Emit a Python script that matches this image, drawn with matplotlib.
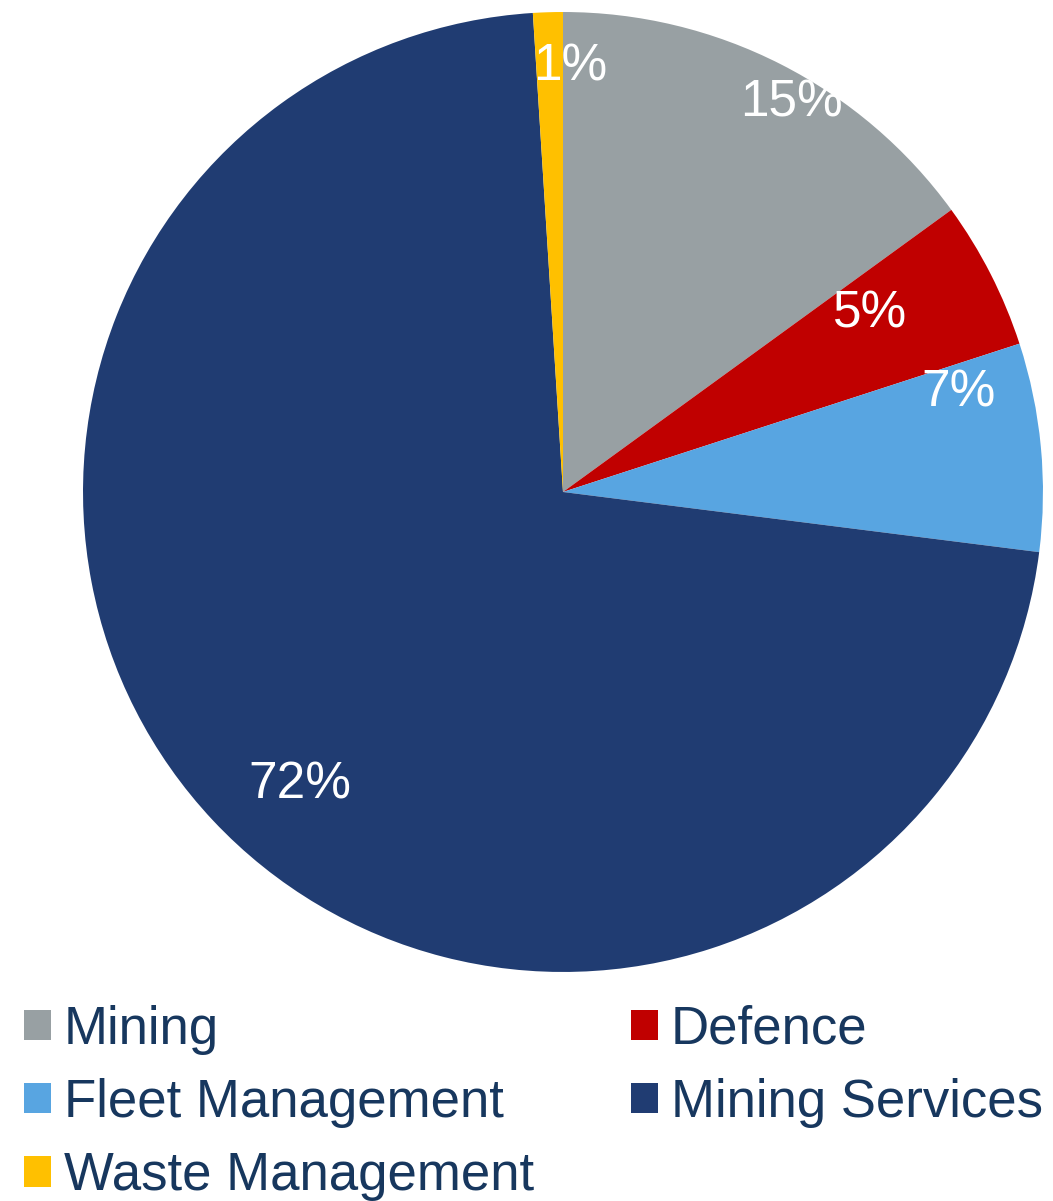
import numpy as np
import matplotlib.pyplot as plt
from matplotlib.patches import Patch

categories = ["Mining", "Defence", "Fleet Management", "Mining Services", "Waste Management"]
shares = [15, 5, 7, 72, 1]
colors = ["#98A0A3", "#C00000", "#58A5E1", "#203C72", "#FFC000"]

# label placement (fraction of radius, angle in degrees)
label_r = [0.94, 0.74, 0.85, 0.82, 0.885]
label_ang = [59.6, 30.0, 14.0, 228.1, 89.0]

fig = plt.figure(figsize=(10.53, 12.01), dpi=100)
ax = fig.add_axes([0.0788, 0.1907, 0.9117, 0.7993])

wedges, _ = ax.pie(shares, colors=colors, startangle=90, counterclock=False,
                   wedgeprops=dict(linewidth=0))
ax.set_aspect("equal")
ax.set_xlim(-1, 1)
ax.set_ylim(-1, 1)
ax.axis("off")

for v, r, a in zip(shares, label_r, label_ang):
    t = np.deg2rad(a)
    ax.text(r * np.cos(t), r * np.sin(t), f"{v}%", color="white",
            fontsize=37, family="Liberation Sans", ha="center", va="center")

# legend is filled row by row in the reference -> reorder for matplotlib's column fill
order = [0, 2, 4, 1, 3]
handles = [Patch(facecolor=colors[i], edgecolor="none") for i in order]
labels = [categories[i] for i in order]
fig.legend(handles, labels, loc="upper left", bbox_to_anchor=(24 / 1053, 0.1635),
           ncol=2, frameon=False, borderpad=0,
           prop=dict(family="Liberation Sans", size=38),
           labelcolor="#17375E", handlelength=0.51, handleheight=0.51,
           handletextpad=0.245, columnspacing=1.84, labelspacing=0.44,
           borderaxespad=0)

fig.savefig("out.png", dpi=100)
